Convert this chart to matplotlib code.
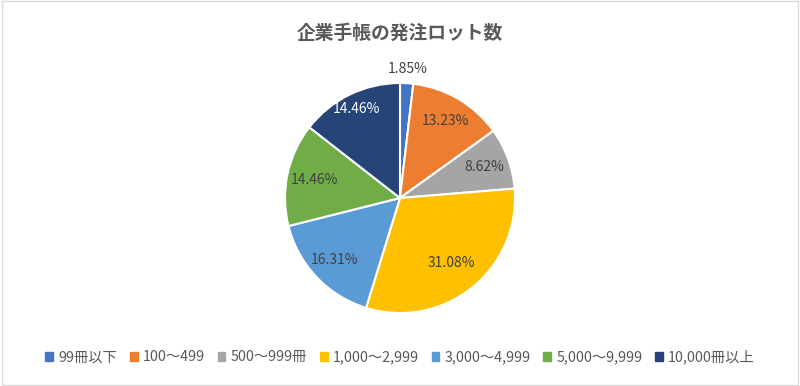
import numpy as np
import matplotlib
matplotlib.use("Agg")
from matplotlib import pyplot as plt
from matplotlib.patches import Rectangle

plt.rcParams['font.family'] = ['Noto Sans CJK JP', 'DejaVu Sans']

title = "企業手帳の発注ロット数"
categories = ["99冊以下", "100～499", "500～999冊", "1,000～2,999",
              "3,000～4,999", "5,000～9,999", "10,000冊以上"]
shares = [1.85, 13.23, 8.62, 31.08, 16.31, 14.46, 14.46]

colors = ["#4472C4", "#ED7D31", "#A5A5A5", "#FFC000", "#5B9BD5", "#70AD47", "#264478"]
label_dist = [1.12, 0.78, 0.78, 0.72, 0.78, 0.76, 0.86]
label_colors = ["#404040"] * 6 + ["white"]

fig = plt.figure(figsize=(8, 3.86), dpi=100)
fig.patches.append(Rectangle((0.002, 0.003), 0.996, 0.994, transform=fig.transFigure,
                             fill=False, edgecolor="#D9D9D9", linewidth=1))

ax = fig.add_axes([(400 - 115) / 800, (386 - 313) / 386, 230 / 800, 230 / 386])
wedges, _ = ax.pie(shares, colors=colors, startangle=90, counterclock=False,
                   wedgeprops=dict(edgecolor="white", linewidth=1.5))
ax.set_xlim(-1, 1)
ax.set_ylim(-1, 1)
ax.set_aspect("equal")
ax.axis("off")

for w, v, d, c in zip(wedges, shares, label_dist, label_colors):
    ang = np.deg2rad((w.theta1 + w.theta2) / 2)
    ax.text(d * np.cos(ang), d * np.sin(ang), f"{v:.2f}%", ha="center", va="center",
            fontsize=10, color=c, clip_on=False)

fig.text(0.5, 1 - 33 / 386, title, ha="center", va="center", fontsize=13.5,
         fontweight="bold", color="#595959")

handles = [plt.Rectangle((0, 0), 1, 1, color=c) for c in colors]
fig.legend(handles, categories, loc="center", bbox_to_anchor=(0.5, 1 - 357 / 386),
           ncol=7, frameon=False, fontsize=10.3, labelcolor="#595959",
           handlelength=0.55, handleheight=0.55, handletextpad=0.35, columnspacing=0.9)

fig.savefig("out.png", dpi=100)
